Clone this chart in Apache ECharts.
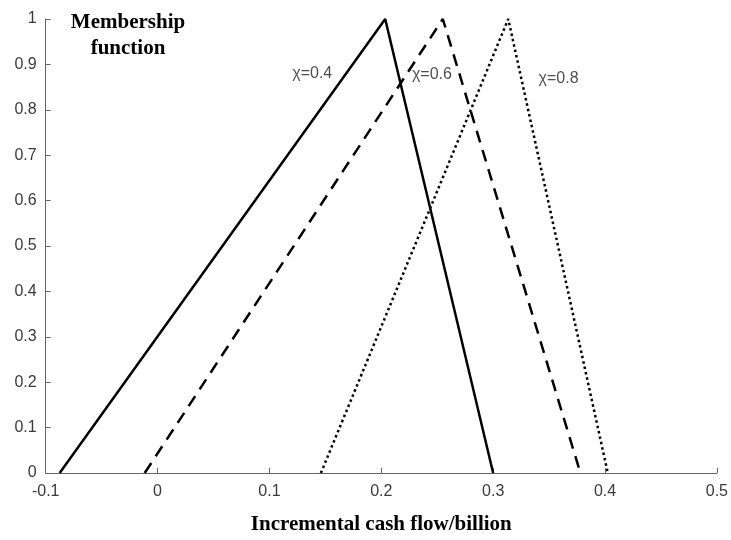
<!DOCTYPE html>
<html>
<head>
<meta charset="utf-8">
<script src="https://cdn.jsdelivr.net/npm/echarts@6/dist/echarts.min.js"></script>
<style>
  html, body { margin: 0; padding: 0; background: #fff; }
  #chart { width: 731px; height: 540px; }
</style>
</head>
<body>
<div id="chart"></div>
<script>
// Triangular membership functions for three confidence levels
const seriesNames = ['χ=0.4', 'χ=0.6', 'χ=0.8'];
const curve04 = [[-0.0875, 0], [0.2035, 1], [0.300, 0]];
const curve06 = [[-0.0115, 0], [0.255, 1], [0.378, 0]];
const curve08 = [[0.146, 0], [0.3135, 1], [0.4025, 0]];
// Where each curve's name is written
const labelPoints = [[0.1204, 0.880], [0.2274, 0.877], [0.3406, 0.869]];

const xTicks = [-0.1, 0, 0.1, 0.2, 0.3, 0.4, 0.5];
const yTicks = [0, 0.1, 0.2, 0.3, 0.4, 0.5, 0.6, 0.7, 0.8, 0.9, 1];

const axisColor = '#666';
const tickFont = { color: '#3a3a3a', fontSize: 16, fontFamily: 'Liberation Sans, Arial, sans-serif' };
const serifBold = { color: '#000', fontSize: 21, fontWeight: 'bold', fontFamily: 'Liberation Serif, Times New Roman, serif' };

const chart = echarts.init(document.getElementById('chart'));

function lineSeries(name, data, type) {
  return {
    name: name, type: 'line', data: data, symbol: 'none', silent: true,
    lineStyle: { color: '#000', width: 2.5, type: type }
  };
}

const fmt = v => String(Math.round(v * 10) / 10);

chart.setOption({
  animation: false,
  grid: { left: 45.7, right: 14, top: 19, bottom: 53.3 },
  xAxis: {
    type: 'value', min: xTicks[0], max: xTicks[xTicks.length - 1], interval: 0.1,
    axisLine: { show: true, onZero: false, lineStyle: { color: axisColor, width: 1 } },
    axisTick: { show: true, inside: true, length: 5, lineStyle: { color: axisColor } },
    splitLine: { show: false },
    axisLabel: Object.assign({ margin: 11, formatter: fmt }, tickFont),
    name: 'Incremental cash flow/billion',
    nameLocation: 'middle', nameGap: 41,
    nameTextStyle: serifBold
  },
  yAxis: {
    type: 'value', min: yTicks[0], max: yTicks[yTicks.length - 1], interval: 0.1,
    axisLine: { show: true, onZero: false, lineStyle: { color: axisColor, width: 1 } },
    axisTick: { show: true, inside: true, length: 5, lineStyle: { color: axisColor } },
    splitLine: { show: false },
    axisLabel: Object.assign({ margin: 9, formatter: fmt }, tickFont)
  },
  graphic: [{
    type: 'text', x: 128, y: 10,
    style: Object.assign({
      text: 'Membership\nfunction', align: 'center', verticalAlign: 'top',
      lineHeight: 26, fill: '#000'
    }, serifBold)
  }],
  series: [
    lineSeries(seriesNames[0], curve04, 'solid'),
    lineSeries(seriesNames[1], curve06, [12, 8]),
    lineSeries(seriesNames[2], curve08, [2.5, 3]),
    {
      type: 'scatter', symbolSize: 0, silent: true,
      data: labelPoints.map((p, i) => ({ value: p, name: seriesNames[i] })),
      label: {
        show: true, position: 'right', distance: 0, formatter: '{b}',
        color: '#222', fontSize: 16, fontFamily: 'Liberation Sans, Arial, sans-serif'
      }
    }
  ]
});
</script>
</body>
</html>
